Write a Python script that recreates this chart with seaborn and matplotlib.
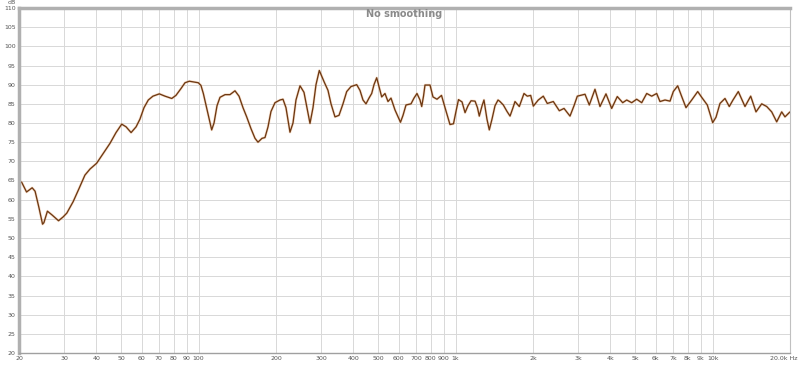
import matplotlib
matplotlib.use("Agg")
import matplotlib.pyplot as plt
import matplotlib.transforms as mtransforms
import seaborn as sns
import numpy as np
import pandas as pd
from matplotlib.ticker import FixedLocator, NullLocator, FixedFormatter

freq_hz = [20, 20.5, 21.4, 21.9, 22.5, 23.1, 23.9, 24.7, 25.0, 25.8, 26.9, 28.5, 29.7, 30.7,
           32.5, 34.3, 36.1, 37.8, 40.1, 42.5, 45.2, 47.7, 50.2, 52.2, 54.6, 57.1, 59.1,
           61.3, 63.7, 66.4, 70.3, 74.0, 78.6, 81.6, 85.4, 88.5, 92.0, 95.9, 99.7, 102.1,
           104.3, 107.8, 112.4, 114.8, 117.9, 121.1, 126.7, 132.4, 138.5, 143.6, 148.8,
           153.8, 159.9, 165.7, 170.2, 176.4, 181.2, 186.2, 191.2, 198.2, 207.3, 212.9,
           218.7, 226.7, 232.9, 239.2, 248.0, 257.0, 264.0, 271.2, 278.6, 286.2, 294.8,
           302.0, 307.5, 318.7, 327.4, 339.3, 351.7, 364.5, 376.8, 391.6, 412.1, 424.5,
           436.0, 447.9, 460.2, 471.4, 481.2, 493.0, 503.3, 515.6, 531.0, 545.5, 560.4,
           580.8, 610.1, 624.1, 641.0, 670.5, 688.7, 707.4, 726.7, 737.9, 749.9, 760.0,
           794.8, 816.4, 846.2, 881.1, 909.3, 950.7, 981.0, 1003, 1026, 1059, 1088, 1117,
           1148, 1190, 1216, 1236, 1267, 1289, 1324, 1352, 1385, 1423, 1462, 1488, 1533,
           1585, 1628, 1672, 1702, 1769, 1845, 1900, 1959, 2006, 2097, 2193, 2273, 2399,
           2532, 2641, 2786, 2888, 2975, 3187, 3312, 3485, 3645, 3846, 4048, 4256, 4467,
           4631, 4842, 5064, 5297, 5540, 5793, 6058, 6240, 6526, 6826, 7030, 7312, 7580,
           7877, 8290, 8748, 9066, 9533, 10004, 10306, 10680, 11170, 11608, 12000, 12584,
           13362, 14063, 14747, 15521, 16232, 16976, 17752, 18566, 19122, 20000]

spl_db = [64.9, 64.5, 62.0, 62.5, 63.1, 62.2, 58.0, 53.6, 54.0, 57.0, 56.0, 54.5, 55.5, 56.5,
          59.5, 63.0, 66.4, 68.0, 69.5, 72.0, 74.7, 77.5, 79.7, 79.0, 77.5, 79.0, 81.0,
          84.0, 86.0, 87.0, 87.6, 87.0, 86.4, 87.2, 89.0, 90.5, 90.9, 90.7, 90.5, 89.8,
          87.7, 83.5, 78.2, 80.0, 84.5, 86.7, 87.4, 87.4, 88.4, 87.0, 84.0,
          81.6, 78.5, 76.0, 75.0, 76.0, 76.2, 79.0, 83.0, 85.3, 86.0, 86.2,
          84.0, 77.6, 80.0, 86.0, 89.7, 88.0, 84.0, 79.9, 84.0, 90.0, 93.7,
          92.0, 90.8, 88.5, 85.0, 81.6, 82.0, 85.0, 88.2, 89.5, 90.0, 88.5,
          86.0, 85.0, 86.5, 87.7, 90.0, 91.8, 89.5, 86.8, 87.7, 85.6, 86.5,
          83.4, 80.2, 82.0, 84.7, 85.0, 86.5, 87.7, 86.0, 84.3, 87.0, 89.9,
          89.9, 86.8, 86.2, 87.2, 84.0, 79.6, 79.8, 83.0, 86.1, 85.5, 82.7, 84.5,
          85.8, 85.7, 84.0, 81.8, 84.5, 86.0, 81.0, 78.2, 81.0, 84.5, 86.0, 85.6, 84.7,
          83.0, 81.8, 84.0, 85.6, 84.3, 87.7, 87.0, 87.2, 84.4, 86.0, 87.0, 85.1, 85.6,
          83.2, 83.8, 81.8, 84.5, 87.0, 87.5, 84.7, 88.8, 84.3, 87.6, 83.8, 86.9, 85.3,
          86.0, 85.3, 86.2, 85.3, 87.7, 87.0, 87.7, 85.6, 86.0, 85.7, 88.2, 89.7, 86.9,
          84.0, 86.0, 88.2, 86.7, 84.7, 80.1, 81.5, 85.1, 86.4, 84.3, 86.0, 88.2,
          84.3, 87.0, 82.9, 85.0, 84.3, 82.9, 80.3, 82.9, 81.6, 82.9]

x_ticks = [20, 30, 40, 50, 60, 70, 80, 90, 100, 200, 300, 400, 500, 600, 700, 800, 900,
           1000, 2000, 3000, 4000, 5000, 6000, 7000, 8000, 9000, 10000, 20000]
x_tick_labels = ["20", "30", "40", "50", "60", "70", "80", "90", "100", "200", "300", "400",
                 "500", "600", "700", "800", "900", "1k", "2k", "3k", "4k", "5k", "6k", "7k",
                 "8k", "9k", "10k", "20.0k Hz"]
y_ticks = list(range(20, 111, 5))
y_tick_labels = [str(v) for v in y_ticks]
title = "No smoothing"

df = pd.DataFrame({"freq": freq_hz, "spl": spl_db})

sns.set_style("white")
fig = plt.figure(figsize=(8.0, 3.65), dpi=100)
ax = fig.add_axes([19 / 800, 12 / 365, 771 / 800, 345 / 365])

ax.set_xscale("log")
ax.set_xlim(20, 20000)
ax.set_ylim(20, 110)

ax.xaxis.set_major_locator(FixedLocator(x_ticks))
ax.xaxis.set_major_formatter(FixedFormatter(x_tick_labels))
ax.xaxis.set_minor_locator(NullLocator())
ax.set_yticks(y_ticks)
ax.set_yticklabels(y_tick_labels)

ax.grid(True, which="major", color="#d8d8d8", linewidth=0.7)
ax.set_axisbelow(True)

sns.lineplot(data=df, x="freq", y="spl", ax=ax, color="#eaa870", linewidth=1.9,
             alpha=0.35, sort=False, estimator=None)
sns.lineplot(data=df, x="freq", y="spl", ax=ax, color="#6e3812", linewidth=0.95,
             sort=False, estimator=None)

ax.set_xlabel("")
ax.set_ylabel("")
ax.tick_params(axis="both", length=0, labelsize=4.5, labelcolor="#555555")
ax.tick_params(axis="x", pad=2.5)
ax.tick_params(axis="y", pad=2.5)

# last x label ("20.0k Hz") sits right-aligned at the figure edge
last_lbl = ax.get_xticklabels()[-1]
last_lbl.set_horizontalalignment("right")
last_lbl.set_transform(last_lbl.get_transform() +
                       mtransforms.ScaledTranslation(7 / 100, 0, fig.dpi_scale_trans))

for side in ["left", "top"]:
    ax.spines[side].set_color("#b0b0b0")
    ax.spines[side].set_linewidth(2.5)
ax.spines["bottom"].set_color("#a0a0a0")
ax.spines["bottom"].set_linewidth(1.0)
ax.spines["right"].set_color("#c0c0c0")
ax.spines["right"].set_linewidth(0.8)

ax.text(0.5, 0.997, title, transform=ax.transAxes, ha="center", va="top",
        fontsize=7, fontweight="bold", color="#8a8a8a")
fig.text(12 / 800, 1 - 3 / 365, "dB", ha="center", va="center", fontsize=4.5, color="#555555")

fig.savefig("out.png", dpi=100, facecolor="white")
